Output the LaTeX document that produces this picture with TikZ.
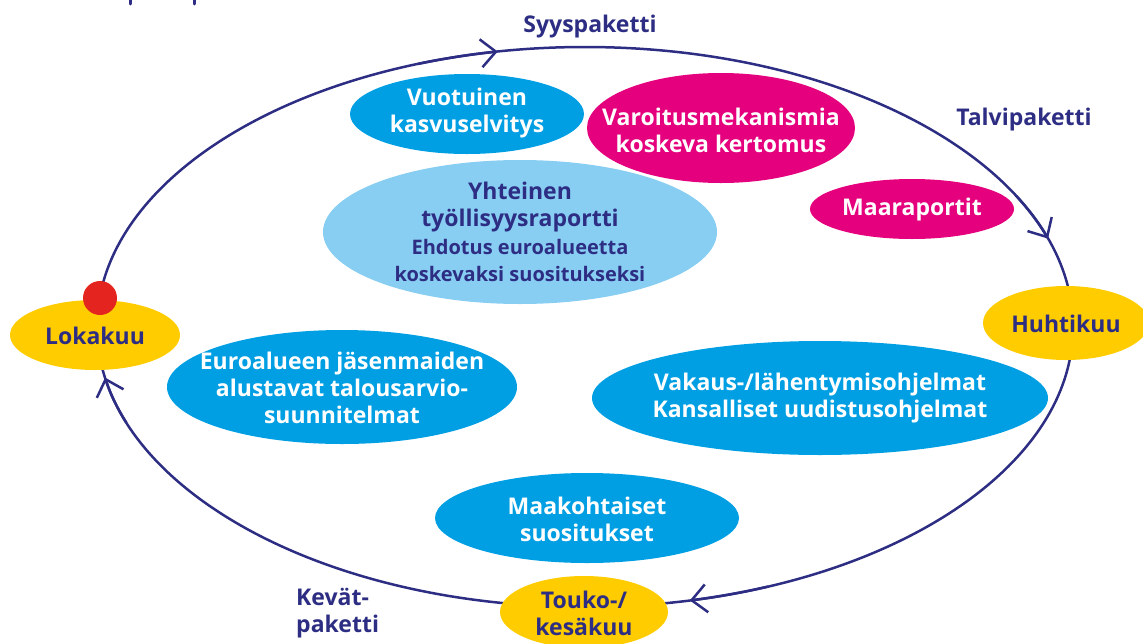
\documentclass[tikz,border=0pt]{standalone}
\usepackage{fontspec}
\setmainfont{Open Sans}
\usetikzlibrary{arrows.meta}
\definecolor{navy}{HTML}{2D2E83}
\definecolor{eublue}{HTML}{009FE3}
\definecolor{lightblue}{HTML}{87CEF2}
\definecolor{magenta}{HTML}{E5007D}
\definecolor{sunyellow}{HTML}{FFCC00}
\definecolor{dotred}{HTML}{E3241F}
\tikzset{
  label/.style={inner sep=0pt, align=center, text=white,
    font=\fontsize{23}{27}\selectfont\bfseries},
  navylabel/.style={label, text=navy},
  season/.style={text=navy, font=\fontsize{23}{27}\selectfont\bfseries, inner sep=0pt},
  cycle/.style={draw=navy, line width=2.5pt},
  tip/.style={cycle, -{Straight Barb[length=15pt,width=28pt,line width=2.5pt]}}
}
\begin{document}
\begin{tikzpicture}[x=1pt,y=-1pt]
\useasboundingbox (0,0) rectangle (1143,643);
% cut-off remnants at the top
\draw[navy, line width=3pt, line cap=round] (130,0) -- (130,4);
\draw[navy, line width=3pt, line cap=round] (194,0) -- (194,4);
% cycle
\coordinate (c) at (585,327);
\draw[cycle] (c) ellipse [x radius=488, y radius=280];
\draw[tip] (c) ++(250:488 and 280) arc[start angle=250, end angle=259.7, x radius=488, y radius=280];
\draw[tip] (c) ++(332:488 and 280) arc[start angle=332, end angle=341.6, x radius=488, y radius=280];
\draw[tip] (c) ++(68:488 and 280) arc[start angle=68, end angle=77.6, x radius=488, y radius=280];
\draw[tip] (c) ++(160:488 and 280) arc[start angle=160, end angle=169.6, x radius=488, y radius=280];
% seasons
\node[season] (syys) at (590,27) {Syyspaketti};
\node[season] (talvi) at (1024,120) {Talvipaketti};
\node[season, align=left, anchor=west] (kevat) at (296,613) {Kevät-\\paketti};
% months
\fill[sunyellow] (95,335) ellipse [x radius=85, y radius=35];
\fill[dotred] (100,298) circle (17pt);
\node[navylabel] (loka) at (95,336) {Lokakuu};
\fill[sunyellow] (1066,323) ellipse [x radius=83, y radius=37];
\node[navylabel] (huhti) at (1066,324) {Huhtikuu};
\fill[sunyellow] (584,612) ellipse [x radius=84, y radius=36];
\node[navylabel] (touko) at (584,613) {Touko-/\\kesäkuu};
% content
\fill[eublue] (467,114) ellipse [x radius=117, y radius=40];
\node[label] (vuot) at (467,113) {Vuotuinen\\kasvuselvitys};
\fill[magenta] (721,128) ellipse [x radius=134, y radius=55];
\node[label] (varo) at (721,130) {Varoitusmekanismia\\koskeva kertomus};
\fill[magenta] (912,209) ellipse [x radius=102, y radius=30];
\node[label] (maa) at (912,210) {Maaraportit};
\fill[lightblue] (520,232) ellipse [x radius=197, y radius=72];
\node[navylabel] (yht) at (520,232)
  {Yhteinen\\työllisyysraportti\\[1pt]{\fontsize{20}{27}\selectfont\bfseries Ehdotus euroalueetta}\\{\fontsize{20}{27}\selectfont\bfseries koskevaksi suositukseksi}};
\fill[eublue] (342,387) ellipse [x radius=175, y radius=57];
\node[label] (euro) at (342,388) {Euroalueen jäsenmaiden\\alustavat talousarvio-\\suunnitelmat};
\fill[eublue] (820,398) ellipse [x radius=228, y radius=57];
\node[label] (vaka) at (820,398) {Vakaus-/lähentymisohjelmat\\Kansalliset uudistusohjelmat};
\fill[eublue] (587,518) ellipse [x radius=152, y radius=45];
\node[label] (maak) at (587,519) {Maakohtaiset\\suositukset};
\end{tikzpicture}
\end{document}
